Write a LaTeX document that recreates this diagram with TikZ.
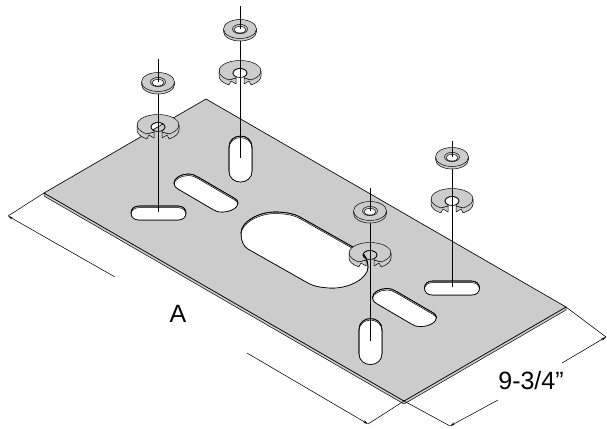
\documentclass[tikz,border=0pt]{standalone}
\usepackage{fontspec}
\setmainfont{Liberation Sans}
\usetikzlibrary{arrows.meta,calc}
\definecolor{plategray}{gray}{.8}
\tikzset{
  outline/.style={draw=black,line width=.65pt,line join=round},
  thinline/.style={draw=black,line width=.5pt,line join=round},
  dimline/.style={draw=black,line width=.55pt},
  dimtip/.style={dimline,-{Stealth[length=5pt,width=2.6pt]}},
  pinline/.style={draw=black,line width=.7pt},
  dimtext/.style={font=\fontsize{25}{27}\selectfont,inner sep=0pt}
}
% slot outlines, relative to the centre of the slot
\newcommand{\hslotpath}{(-19.5,-7) -- (19.5,-7) .. controls (24.5,-7) and (27.5,-4) .. (27.5,0) .. controls (27.5,4) and (24.5,7) .. (19.5,7) -- (-19.5,7) .. controls (-24.5,7) and (-27.5,4) .. (-27.5,0) .. controls (-27.5,-4) and (-24.5,-7) .. (-19.5,-7) -- cycle}
\newcommand{\vslotpath}{(-11.5,-12) .. controls (-11.5,-19) and (-6,-23) .. (0,-23) .. controls (6,-23) and (11.5,-19) .. (11.5,-12) -- (11.5,12) .. controls (11.5,19) and (6,23) .. (0,23) .. controls (-6,23) and (-11.5,19) .. (-11.5,12) -- cycle}
\newcommand{\dslotpath}{(-8,-16) -- (28,5) .. controls (31,7) and (32,8) .. (32,10) .. controls (32,15) and (24,19) .. (16,19) .. controls (12,19) and (9,18) .. (7,16.5) -- (-28,-4) .. controls (-31,-6) and (-32,-8) .. (-32,-10) .. controls (-32,-15) and (-25,-19) .. (-18,-19) .. controls (-14,-19) and (-11,-18) .. (-8,-16) -- cycle}
\newcommand{\bigslotpath}{(300,217) -- (360,251) .. controls (365,254) and (368,260) .. (368,267) .. controls (368,278) and (350,288) .. (333,288) .. controls (325,288) and (315,287) .. (308,283) -- (248,249) .. controls (243,246) and (241,240) .. (241,233) .. controls (241,222) and (258,212) .. (275,212) .. controls (283,212) and (293,213) .. (300,217) -- cycle}
% #1 centre, #2 outline: cut with a thin rim along its upper edge
\newcommand{\slotcut}[2]{
  \begin{scope}[shift={#1}]
    \draw[outline,fill=plategray] #2;
    \begin{scope}
      \clip #2;
      \draw[thinline,fill=white,yshift=-1.6pt] #2;
    \end{scope}
    \draw[outline] #2;
  \end{scope}
}
% #1 x, #2 y of the hole
\newcommand{\flatwasher}[2]{
  \begin{scope}[shift={(#1,#2)}]
    \draw[thinline,fill=plategray] (-16.5,0) -- (-16.5,2.5) arc[start angle=180,end angle=360,x radius=16.5pt,y radius=9.5pt] -- (16.5,0) -- cycle;
    \draw[thinline,fill=plategray] (0,0) ellipse[x radius=16.5pt,y radius=9.5pt];
    \draw[thinline,fill=plategray] (0,0) ellipse[x radius=7.5pt,y radius=4.6pt];
    \draw[thinline,fill=white] (0,.7) ellipse[x radius=6pt,y radius=3.3pt];
  \end{scope}
}
\newcommand{\cwasher}[2]{
  \begin{scope}[shift={(#1,#2)}]
    \draw[thinline,fill=plategray] (21,-2) -- (21,3) arc[start angle=0,end angle=-58,x radius=21pt,y radius=10.5pt] -- (9,8) -- (4,11) -- (4,5) -- (11.13,6.9) -- cycle;
    \draw[thinline,fill=plategray] (-21,-2) -- (-21,3) arc[start angle=180,end angle=238,x radius=21pt,y radius=10.5pt] -- (-9,8) -- (-4,11) -- (-4,5) -- (-11.13,6.9) -- cycle;
    \draw[thinline,fill=plategray] (11.13,6.9) arc[start angle=-58,end angle=238,x radius=21pt,y radius=10.5pt] -- (-4,5) -- (-4,3.7) arc[start angle=235,end angle=-55,x radius=7pt,y radius=4.5pt] -- (4,5) -- cycle;
    \draw[outline] (0,0) ellipse[x radius=7pt,y radius=4.5pt];
  \end{scope}
}
\begin{document}
\begin{tikzpicture}[x=1pt,y=-1pt]
  \useasboundingbox (0,0) rectangle (607,428);
  % corners of the plate
  \coordinate (plateT) at (206,99);
  \coordinate (plateL) at (44,193);
  \coordinate (plateB) at (404,401);
  \coordinate (plateR) at (566,307);

  % plate with its thickness
  \draw[thinline,fill=plategray] (plateL) -- ++(0,3) -- ($(plateB)+(0,3)$) -- ($(plateR)+(0,3)$) -- (plateR) -- (plateB) -- cycle;
  \draw[outline,fill=plategray] (plateT) -- (plateL) -- (plateB) -- (plateR) -- cycle;

  % slots
  \slotcut{(158.5,213)}{\hslotpath}
  \slotcut{(206,193)}{\dslotpath}
  \slotcut{(240.5,159)}{\vslotpath}
  \slotcut{(0,0)}{\bigslotpath}
  \slotcut{(404.5,307.5)}{\dslotpath}
  \slotcut{(452,288)}{\hslotpath}
  \slotcut{(370.5,341.5)}{\vslotpath}

  % washers and pins
  \cwasher{158}{127}
  \draw[pinline] (158,94) -- (158,212);
  \flatwasher{158}{82}
  \draw[pinline] (158,59) -- (158,82);

  \cwasher{240}{73}
  \draw[pinline] (240,41) -- (240,158);
  \flatwasher{240}{29}
  \draw[pinline] (240,6) -- (240,29);

  \cwasher{370}{255}
  \draw[pinline] (370,223) -- (370,341);
  \flatwasher{370}{211}
  \draw[pinline] (370,188) -- (370,211);

  \cwasher{452}{201}
  \draw[pinline] (452,169) -- (452,287);
  \flatwasher{452}{157}
  \draw[pinline] (452,141) -- (452,157);

  % dimensions
  \coordinate (dimAa) at (8,216);
  \coordinate (dimAb) at (115,277);
  \coordinate (dimAc) at (247,353);
  \coordinate (dimAd) at (368,424);
  \coordinate (dimBa) at (450,426);
  \coordinate (dimBb) at (498,400);
  \coordinate (dimBc) at (562,363);
  \coordinate (dimBd) at (606,337);
  \draw[dimline] (plateL) -- (dimAa);
  \draw[dimline] (plateB) -- (dimAd);
  \draw[dimline] (plateB) -- (dimBa);
  \draw[dimline] (plateR) -- (dimBd);
  \draw[dimtip] (dimAb) -- (dimAa);
  \draw[dimtip] (dimAc) -- (dimAd);
  \draw[dimtip] (dimBb) -- (dimBa);
  \draw[dimtip] (dimBc) -- (dimBd);
  \node[dimtext] (lblA) at (178,314) {A};
  \node[dimtext] (lblB) at (531,381) {9-3/4”};
\end{tikzpicture}
\end{document}
